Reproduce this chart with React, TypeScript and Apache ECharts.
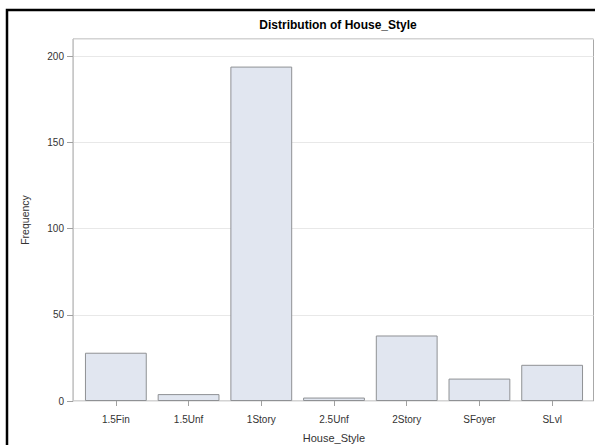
import React, { useEffect, useRef } from "react";
import * as echarts from "echarts";

const categories = ["1.5Fin", "1.5Unf", "1Story", "2.5Unf", "2Story", "SFoyer", "SLvl"];
const frequencies = [28, 4, 194, 2, 38, 13, 21];
const yTicks = [0, 50, 100, 150, 200];

export default function App() {
  const ref = useRef<HTMLDivElement>(null);
  useEffect(() => {
    if (!ref.current) return;
    const chart = echarts.init(ref.current, null, { renderer: "svg" });
    const font = "Liberation Sans, Arial, sans-serif";
    chart.setOption({
      animation: false,
      backgroundColor: "#ffffff",
      title: {
        text: "Distribution of House_Style",
        left: 333,
        textAlign: "center",
        top: 14,
        textStyle: { fontFamily: font, fontSize: 12, fontWeight: "bold", color: "#000" },
      },
      graphic: [
        {
          type: "rect",
          shape: { x: 7, y: 10, width: 600, height: 450 },
          style: { fill: "none", stroke: "#000", lineWidth: 2.5 },
          silent: true,
          z: 100,
        },
      ],
      grid: [
        { left: 79.5, right: 6.5, top: 39, bottom: 44, containLabel: false, outerBoundsMode: "none" },
        {
          left: 73,
          right: 1.5,
          top: 39,
          bottom: 44,
          show: true,
          borderColor: "#a8a8a8",
          borderWidth: 1,
          containLabel: false,
          outerBoundsMode: "none",
        },
      ],
      xAxis: [
        {
          type: "category",
          gridIndex: 0,
          data: categories,
          name: "House_Style",
          nameLocation: "middle",
          nameGap: 31,
          nameTextStyle: { fontFamily: font, fontSize: 11, color: "#333" },
          axisLine: { show: false },
          axisTick: { show: true, alignWithLabel: true, length: 5, lineStyle: { color: "#a0a0a0" } },
          axisLabel: { fontFamily: font, fontSize: 10, color: "#333", margin: 13 },
          splitLine: { show: false },
        },
        { type: "value", gridIndex: 1, show: false, min: 0, max: 1 },
      ],
      yAxis: [
        {
          type: "value",
          gridIndex: 0,
          min: 0,
          max: 210,
          interval: 50,
          offset: 6.5,
          name: "Frequency",
          nameLocation: "middle",
          nameGap: 43,
          nameRotate: 90,
          nameTextStyle: { fontFamily: font, fontSize: 10.5, color: "#333" },
          axisLine: { show: true, lineStyle: { color: "#c8c8c8", width: 1 } },
          axisTick: { show: true, length: 6, lineStyle: { color: "#a0a0a0" }, customValues: yTicks },
          axisLabel: { fontFamily: font, fontSize: 10, color: "#333", margin: 9, customValues: yTicks },
          splitLine: { show: false },
        },
        {
          type: "value",
          gridIndex: 1,
          min: 0,
          max: 210,
          interval: 50,
          axisLine: { show: false },
          axisTick: { show: false },
          axisLabel: { show: false },
          splitLine: { show: true, lineStyle: { color: "#e8e8e8", width: 1 } },
        },
      ],
      series: [
        {
          type: "bar",
          xAxisIndex: 0,
          yAxisIndex: 0,
          data: frequencies,
          barWidth: "85%",
          itemStyle: { color: "#e1e6f0", borderColor: "#8f9194", borderWidth: 1 },
          z: 5,
        },
      ],
    });
    return () => chart.dispose();
  }, []);
  return (
    <div
      ref={ref}
      style={{ position: "absolute", left: 0, top: 0, width: 595, height: 445 }}
    />
  );
}
